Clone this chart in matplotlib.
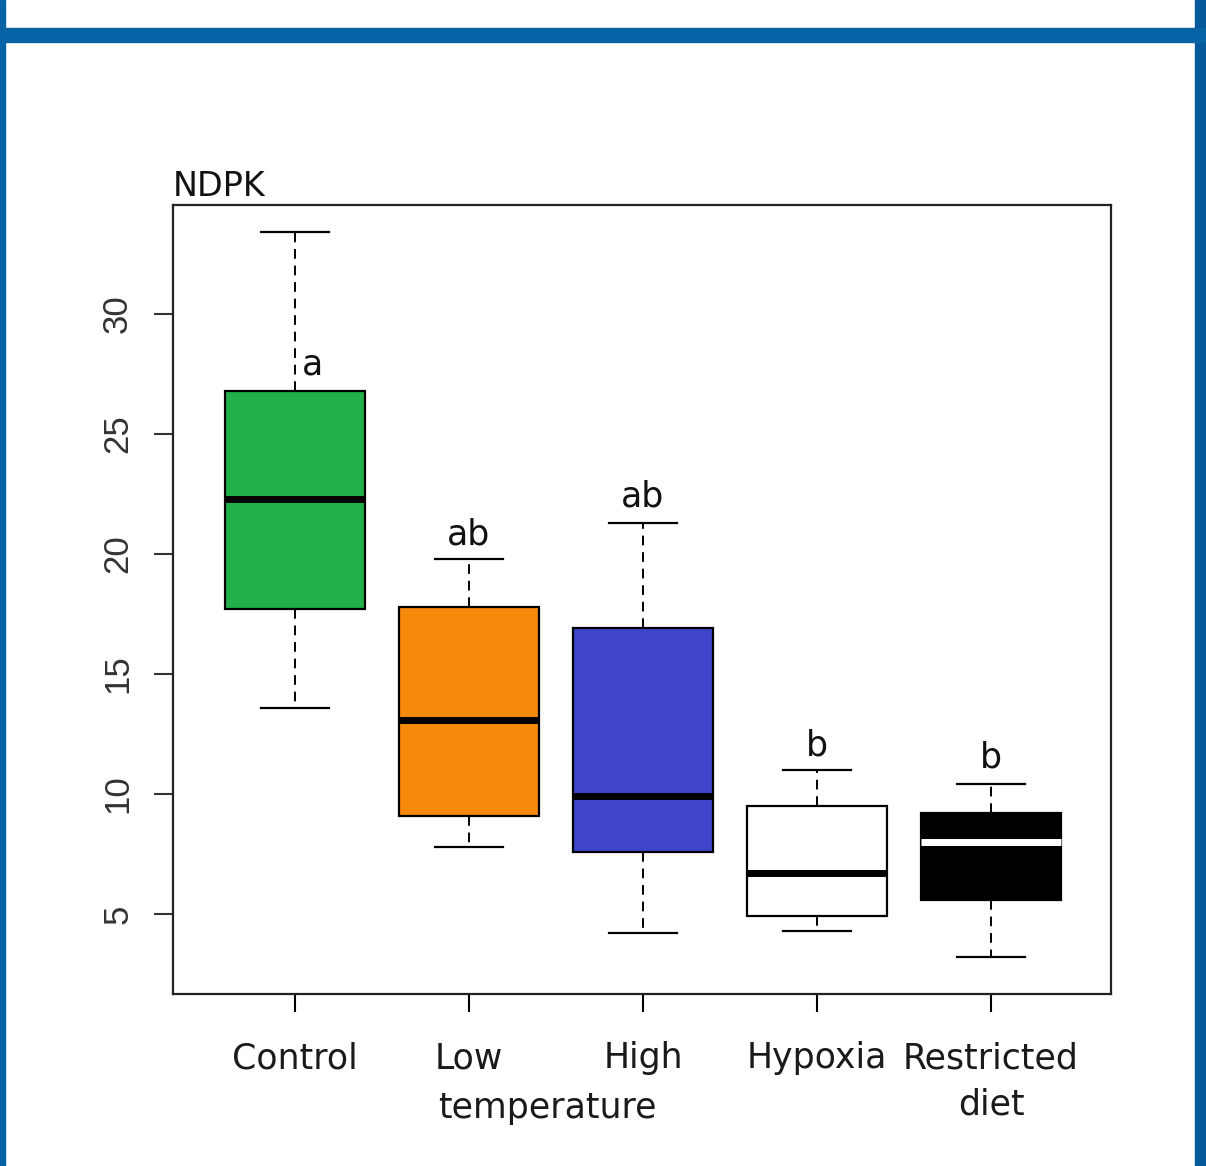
import matplotlib
matplotlib.use("Agg")
import matplotlib.pyplot as plt
from matplotlib.patches import Rectangle

# ---- data ----
groups = ["Control", "Low", "High", "Hypoxia", "Restricted\ndiet"]
whislo = [13.6, 7.8, 4.2, 4.3, 3.2]
q1 = [17.7, 9.1, 7.6, 4.9, 5.6]
med = [22.3, 13.1, 9.9, 6.7, 8.0]
q3 = [26.8, 17.8, 16.9, 9.5, 9.2]
whishi = [33.4, 19.8, 21.3, 11.0, 10.4]
letters = ["a", "ab", "ab", "b", "b"]
letter_y = [27.9, 20.8, 22.4, 12.0, 11.5]
fill_colors = ["#22b04b", "#f78a0c", "#3f46cb", "#ffffff", "#000000"]
median_colors = ["black", "black", "black", "black", "white"]
yticks = [5, 10, 15, 20, 25, 30]

W, H = 1206, 1166
fig = plt.figure(figsize=(W / 100, H / 100), dpi=100)
fig.patch.set_facecolor("white")

# blue frame
blue = "#0762a6"
fig.add_artist(Rectangle((0, 0), 5 / W, 1, transform=fig.transFigure, color=blue, zorder=10))
fig.add_artist(Rectangle((1 - 11 / W, 0), 11 / W, 1, transform=fig.transFigure, color="#05599a", zorder=10))
fig.add_artist(Rectangle((0, 1 - 42 / H), 1, 14 / H, transform=fig.transFigure, color=blue, zorder=10))

ax = fig.add_axes([173 / W, 1 - 994 / H, (1111 - 173) / W, (994 - 205) / H])

stats = []
for i in range(len(groups)):
    stats.append(dict(whislo=whislo[i], q1=q1[i], med=med[i], q3=q3[i],
                      whishi=whishi[i], fliers=[], label=groups[i]))

positions = list(range(1, len(groups) + 1))
bp = ax.bxp(stats, positions=positions, widths=0.8, patch_artist=True,
            showfliers=False, capwidths=0.39,
            boxprops=dict(edgecolor="black", linewidth=1.6),
            whiskerprops=dict(color="black", linewidth=1.4, linestyle=(0, (5, 3.5))),
            capprops=dict(color="black", linewidth=1.6),
            medianprops=dict(linewidth=5))
for patch, fc in zip(bp["boxes"], fill_colors):
    patch.set_facecolor(fc)
for line, mc in zip(bp["medians"], median_colors):
    line.set_color(mc)
    line.set_solid_capstyle("butt")

ax.set_xlim(0.299, 5.69)
ax.set_ylim(1.667, 34.54)

ax.set_yticks(yticks)
ax.set_yticklabels([str(v) for v in yticks], rotation=90, va="center",
                   fontsize=25, family="Liberation Sans", color="#333333")
ax.set_xticks(positions)
xlabels = ["Control", "Low", "High", "Hypoxia", "Restricted\ndiet"]
ax.set_xticklabels(xlabels, fontsize=25, family="DejaVu Sans", color="#1a1a1a",
                   linespacing=1.45)
ax.tick_params(axis="y", length=14, width=1.5, pad=14, colors="#333333")
ax.tick_params(axis="x", length=13, width=1.5, pad=21)
for s in ax.spines.values():
    s.set_linewidth(1.6)
    s.set_color("#222222")

ax.text(2.45, -0.1445, "temperature", transform=ax.get_xaxis_transform(),
        ha="center", va="center", fontsize=25, family="DejaVu Sans", color="#1a1a1a")

for i, (lt, ly) in enumerate(zip(letters, letter_y)):
    dx = 0.1 if i == 0 else 0.0
    ax.text(positions[i] + dx, ly, lt, ha="center", va="center", fontsize=25,
            family="DejaVu Sans", color="#111111")

ax.text(0.0, 1.003, "NDPK", transform=ax.transAxes, ha="left", va="bottom",
        fontsize=24, family="DejaVu Sans", color="#111111")

fig.savefig("out.png", dpi=100, facecolor="white")
